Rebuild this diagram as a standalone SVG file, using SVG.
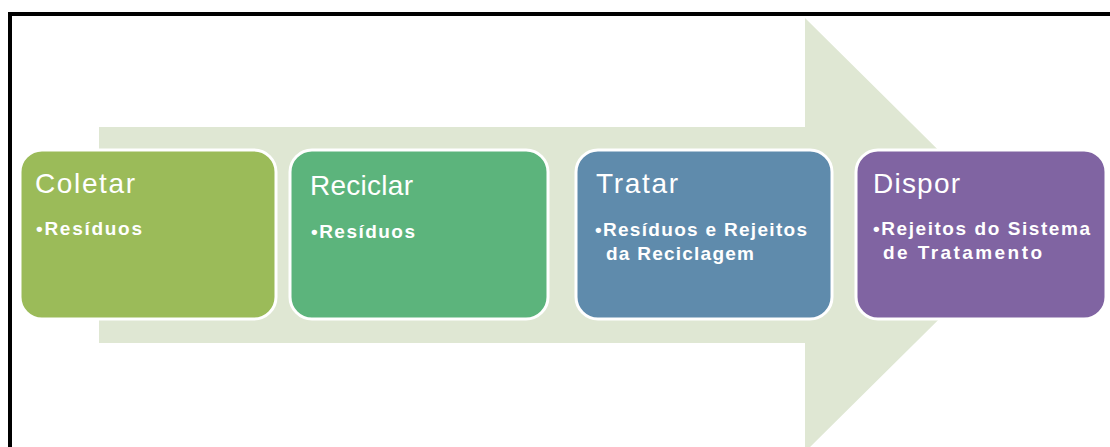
<svg xmlns="http://www.w3.org/2000/svg" width="1110" height="447" viewBox="0 0 1110 447">
<style>
.box{stroke:#ffffff;stroke-width:3}
.t{font-family:"Liberation Sans",Arial,sans-serif;fill:#ffffff;font-size:28px}
.b{font-family:"Liberation Sans",Arial,sans-serif;fill:#ffffff;font-size:19px;font-weight:bold}
</style>
<rect x="0" y="0" width="1110" height="447" fill="#ffffff"/>
<rect x="10" y="14" width="1200" height="500" fill="none" stroke="#000000" stroke-width="4"/>
<g id="connectors">
<polygon points="99,127 805,127 805,18 1024,235 805,452 805,343 99,343" fill="#DFE7D3"/>
</g>
<g id="coletar">
<rect class="box" x="20" y="150" width="256" height="169" rx="22" fill="#9BBB59"/>
<text class="t" x="35" y="193" textLength="100" lengthAdjust="spacing">Coletar</text>
<text class="b" x="36" y="235" textLength="106" lengthAdjust="spacing">•Resíduos</text>
</g>
<g id="reciclar">
<rect class="box" x="290" y="150" width="258" height="169" rx="22" fill="#5CB47C"/>
<text class="t" x="310" y="195" textLength="103" lengthAdjust="spacing">Reciclar</text>
<text class="b" x="311" y="238" textLength="104" lengthAdjust="spacing">•Resíduos</text>
</g>
<g id="tratar">
<rect class="box" x="576" y="150" width="256" height="169" rx="22" fill="#5F8BAC"/>
<text class="t" x="596" y="193" textLength="82" lengthAdjust="spacing">Tratar</text>
<text class="b" x="595" y="236" textLength="212" lengthAdjust="spacing">•Resíduos e Rejeitos</text>
<text class="b" x="606" y="260" textLength="148" lengthAdjust="spacing">da Reciclagem</text>
</g>
<g id="dispor">
<rect class="box" x="856" y="150" width="250" height="169" rx="22" fill="#8064A2"/>
<text class="t" x="873" y="193" textLength="87" lengthAdjust="spacing">Dispor</text>
<text class="b" x="873" y="235" textLength="217" lengthAdjust="spacing">•Rejeitos do Sistema</text>
<text class="b" x="883" y="259" textLength="159" lengthAdjust="spacing">de Tratamento</text>
</g>
</svg>
